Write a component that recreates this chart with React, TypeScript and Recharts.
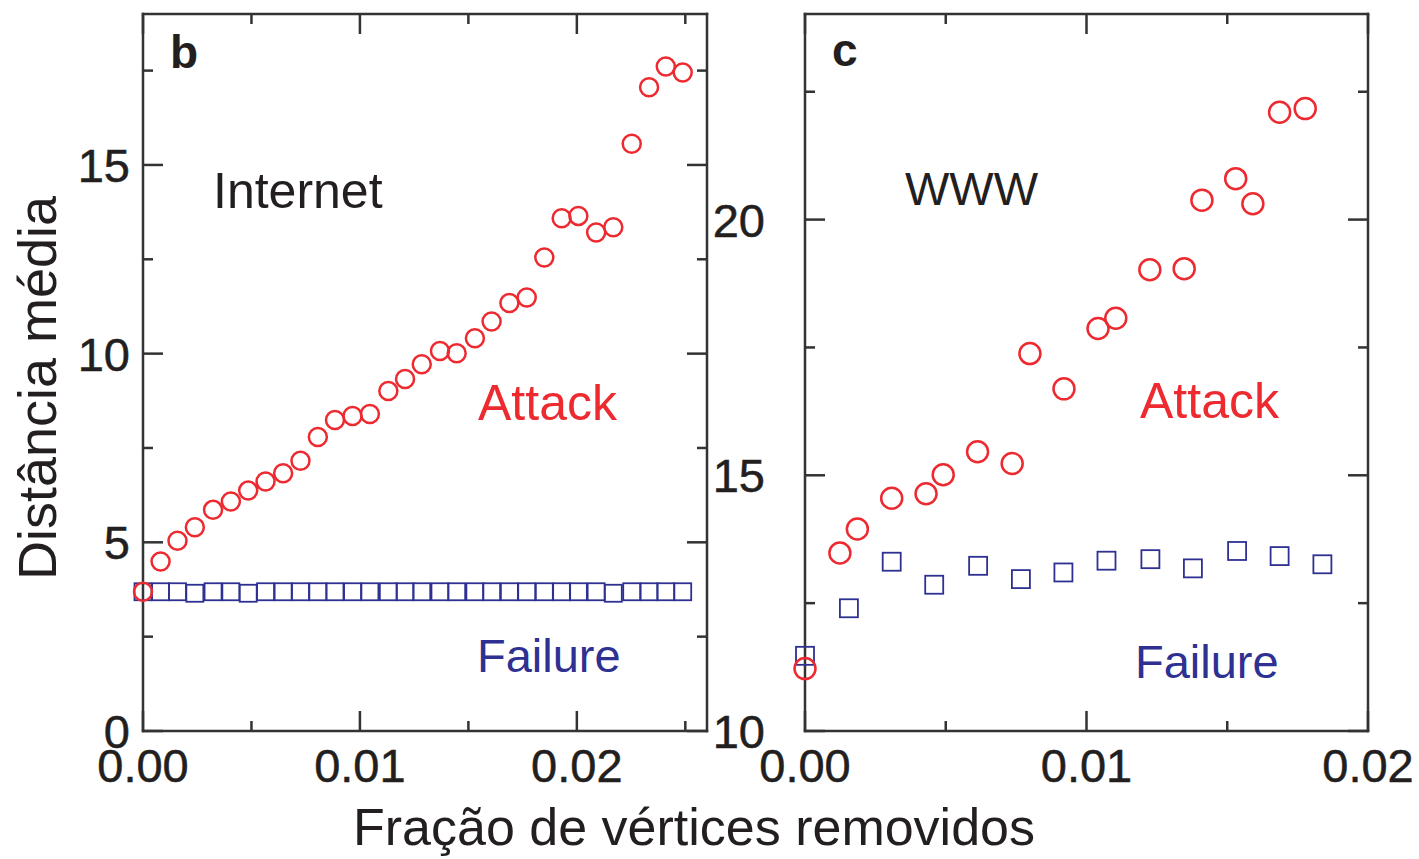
import React from "react";
import { ScatterChart, Scatter, XAxis, YAxis } from "recharts";

const FONT = '"Liberation Sans", Arial, Helvetica, sans-serif';
const RED = "#ec2a30";
const BLUE = "#2e3192";
const INK = "#231f20";
const AXIS = "#333333";

// panel b (Internet): fraction removed, average distance under attack / failure
const internetFraction = [
  0, 0.00081, 0.00159, 0.00239, 0.00323, 0.00405, 0.00485, 0.00565, 0.00646, 0.00726,
  0.00806, 0.00885, 0.00966, 0.01046, 0.01131, 0.01208, 0.01285, 0.01369, 0.01446, 0.0153,
  0.01607, 0.01689, 0.01769, 0.0185, 0.0193, 0.02007, 0.02089, 0.02168, 0.02253, 0.02333,
  0.0241, 0.02488,
];
const internetAttack = [
  3.69, 4.49, 5.04, 5.4, 5.86, 6.08, 6.37, 6.61, 6.83, 7.16,
  7.79, 8.24, 8.35, 8.4, 9.01, 9.33, 9.72, 10.07, 10.01, 10.41,
  10.85, 11.34, 11.49, 12.55, 13.59, 13.65, 13.21, 13.35, 15.56, 17.06,
  17.61, 17.45,
];
const internetFailure = [
  3.69, 3.69, 3.69, 3.65, 3.69, 3.69, 3.65, 3.69, 3.69, 3.69,
  3.69, 3.69, 3.69, 3.69, 3.69, 3.69, 3.69, 3.69, 3.69, 3.69,
  3.69, 3.69, 3.69, 3.69, 3.69, 3.69, 3.69, 3.65, 3.69, 3.69,
  3.69, 3.69,
];
const internetXTicks = [0, 0.005, 0.01, 0.015, 0.02, 0.025];
const internetYTicks = [0, 2.5, 5, 7.5, 10, 12.5, 15, 17.5];

// panel c (WWW)
const wwwAttackFraction = [
  0, 0.00124, 0.00186, 0.00308, 0.0043, 0.00491, 0.00613, 0.00736, 0.00799, 0.0092,
  0.01041, 0.01104, 0.01225, 0.01347, 0.0141, 0.0153, 0.01591, 0.01686, 0.01777,
];
const wwwAttack = [
  11.22, 13.48, 13.95, 14.55, 14.64, 15.01, 15.46, 15.23, 17.38, 16.69,
  17.87, 18.07, 19.02, 19.04, 20.38, 20.8, 20.31, 22.1, 22.17,
];
const wwwFailureFraction = [
  0, 0.00156, 0.00308, 0.00459, 0.00615, 0.00767, 0.00918, 0.01071, 0.01227, 0.01378,
  0.01535, 0.01686, 0.01838,
];
const wwwFailure = [
  11.47, 12.4, 13.31, 12.86, 13.23, 12.97, 13.1, 13.33, 13.36, 13.18,
  13.52, 13.42, 13.26,
];
const wwwXTicks = [0, 0.005, 0.01, 0.015, 0.02];
const wwwYTicks = [10, 12.5, 15, 17.5, 20, 22.5];

const zip = (xs: number[], ys: number[]) => xs.map((x, i) => ({ x, y: ys[i] }));

const isMajorX = (v: number) => Math.abs(v * 100 - Math.round(v * 100)) < 1e-9;
const isMajorY = (v: number) => v % 5 === 0;

const tickText = {
  fill: INK,
  fontFamily: FONT,
  fontSize: 47,
  stroke: INK,
  strokeWidth: 0.5,
};

function BottomTick({ x, y, payload }: any) {
  const major = isMajorX(payload.value);
  return (
    <g>
      <line x1={x} x2={x} y1={y} y2={y - (major ? 20 : 10)} stroke={AXIS} strokeWidth={2.5} />
      {major && (
        <text x={x} y={y + 51} textAnchor="middle" {...tickText}>
          {payload.value.toFixed(2)}
        </text>
      )}
    </g>
  );
}

function TopTick({ x, y, payload }: any) {
  const major = isMajorX(payload.value);
  return <line x1={x} x2={x} y1={y} y2={y + (major ? 20 : 10)} stroke={AXIS} strokeWidth={2.5} />;
}

const leftTick = (gap: number) => ({ x, y, payload }: any) => {
  const major = isMajorY(payload.value);
  return (
    <g>
      <line x1={x} x2={x + (major ? 20 : 10)} y1={y} y2={y} stroke={AXIS} strokeWidth={2.5} />
      {major && (
        <text x={x - gap} y={y + 17} textAnchor="end" {...tickText}>
          {payload.value}
        </text>
      )}
    </g>
  );
};

function RightTick({ x, y, payload }: any) {
  const major = isMajorY(payload.value);
  return <line x1={x} x2={x - (major ? 20 : 10)} y1={y} y2={y} stroke={AXIS} strokeWidth={2.5} />;
}

const circle = (r: number, sw: number) => (p: any) =>
  <circle cx={p.cx} cy={p.cy} r={r} fill="none" stroke={RED} strokeWidth={sw} />;
const square = (s: number, sw: number) => (p: any) =>
  <rect x={p.cx - s / 2} y={p.cy - s / 2} width={s} height={s} fill="none" stroke={BLUE} strokeWidth={sw} />;
const nothing = () => <g />;

const axisLine = { stroke: AXIS, strokeWidth: 2.5, strokeLinecap: "square" as const };

function Panel({
  width, margin, yWidth, gap, xDomain, yDomain, xTicks, yTicks, attack, failure, r, s,
}: any) {
  return (
    <ScatterChart width={width} height={800} margin={margin}>
      <XAxis xAxisId="b" type="number" dataKey="x" domain={xDomain} ticks={xTicks} interval={0}
        height={60} tickSize={0} tickMargin={0} tickLine={false} axisLine={axisLine} tick={<BottomTick />} />
      <XAxis xAxisId="t" orientation="top" type="number" dataKey="x" domain={xDomain} ticks={xTicks}
        interval={0} height={1} tickSize={0} tickMargin={0} tickLine={false} axisLine={axisLine} tick={<TopTick />} />
      <YAxis yAxisId="l" type="number" dataKey="y" domain={yDomain} ticks={yTicks} interval={0}
        width={yWidth} tickSize={0} tickMargin={0} tickLine={false} axisLine={axisLine} tick={leftTick(gap)} />
      <YAxis yAxisId="r" orientation="right" type="number" dataKey="y" domain={yDomain} ticks={yTicks}
        interval={0} width={1} tickSize={0} tickMargin={0} tickLine={false} axisLine={axisLine} tick={<RightTick />} />
      {/* invisible copy so the top / right frame axes get drawn */}
      <Scatter xAxisId="t" yAxisId="r" data={failure} shape={nothing} isAnimationActive={false} />
      <Scatter xAxisId="b" yAxisId="l" data={failure} shape={square(s, 1.8)} isAnimationActive={false} />
      <Scatter xAxisId="b" yAxisId="l" data={attack} shape={circle(r, 2.5)} isAnimationActive={false} />
    </ScatterChart>
  );
}

const label = (x: number, y: number, text: string, fill: string, size = 50, bold = false) => (
  <text x={x} y={y} fill={fill} fontSize={size} fontFamily={FONT} fontWeight={bold ? "bold" : "normal"}>
    {text}
  </text>
);

export default function App() {
  return (
    <div style={{ position: "absolute", left: 0, top: 0, width: 1419, height: 859, background: "#fff" }}>
      <div style={{ position: "absolute", left: 0, top: 0 }}>
        <Panel
          width={720}
          margin={{ top: 13, right: 12, bottom: 9, left: 83 }}
          yWidth={60}
          gap={13}
          xDomain={[0, 0.026]}
          yDomain={[0, 19]}
          xTicks={internetXTicks}
          yTicks={internetYTicks}
          attack={zip(internetFraction, internetAttack)}
          failure={zip(internetFraction, internetFailure)}
          r={9}
          s={17}
        />
      </div>
      <div style={{ position: "absolute", left: 700, top: 0 }}>
        <Panel
          width={719}
          margin={{ top: 13, right: 50, bottom: 9, left: 5 }}
          yWidth={100}
          gap={40}
          xDomain={[0, 0.02]}
          yDomain={[10, 24.02]}
          xTicks={wwwXTicks}
          yTicks={wwwYTicks}
          attack={zip(wwwAttackFraction, wwwAttack)}
          failure={zip(wwwFailureFraction, wwwFailure)}
          r={10.5}
          s={18}
        />
      </div>
      <svg width={1419} height={859} style={{ position: "absolute", left: 0, top: 0, pointerEvents: "none" }}>
        {label(170, 68, "b", INK, 46, true)}
        {label(213, 208, "Internet", INK, 50)}
        {label(478, 420, "Attack", RED, 50)}
        {label(477, 672, "Failure", BLUE, 47)}
        {label(832, 66, "c", INK, 46, true)}
        {label(905, 205, "WWW", INK, 47)}
        {label(1140, 418, "Attack", RED, 50)}
        {label(1135, 678, "Failure", BLUE, 47)}
        <text x={694} y={845} textAnchor="middle" fill={INK} fontSize={52} fontFamily={FONT}>
          Fração de vértices removidos
        </text>
        <text x={56} y={388} textAnchor="middle" fill={INK} fontSize={54} fontFamily={FONT}
          transform="rotate(-90 56 388)">
          Distância média
        </text>
      </svg>
    </div>
  );
}
